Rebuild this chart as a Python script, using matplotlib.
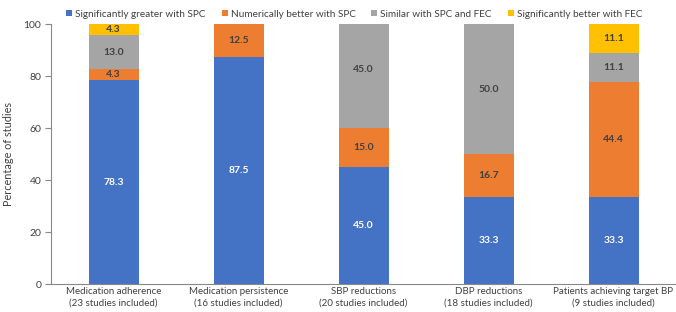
import matplotlib
matplotlib.use("Agg")
import matplotlib.pyplot as plt
import numpy as np

plt.rcParams['font.family'] = ['Lato', 'DejaVu Sans']

categories = ["Medication adherence\n(23 studies included)",
              "Medication persistence\n(16 studies included)",
              "SBP reductions\n(20 studies included)",
              "DBP reductions\n(18 studies included)",
              "Patients achieving target BP\n(9 studies included)"]
series_names = ["Significantly greater with SPC", "Numerically better with SPC",
                "Similar with SPC and FEC", "Significantly better with FEC"]
sig_spc = [78.3, 87.5, 45.0, 33.3, 33.3]
num_spc = [4.3, 12.5, 15.0, 16.7, 44.4]
similar = [13.0, 0.0, 45.0, 50.0, 11.1]
sig_fec = [4.3, 0.0, 0.0, 0.0, 11.1]
colors = ["#4472C4", "#ED7D31", "#A5A5A5", "#FFC000"]
text_colors = ["white", "#404040", "#404040", "#404040"]

fig = plt.figure(figsize=(6.76, 3.12), dpi=100)
ax = fig.add_axes([51/676, 28/312, 625/676, 260/312])

x = np.arange(len(categories))
bottom = np.zeros(len(categories))
handles = []
for vals, name, c, tc in zip([sig_spc, num_spc, similar, sig_fec], series_names, colors, text_colors):
    vals = np.array(vals)
    h = ax.bar(x, vals, width=0.4, bottom=bottom, color=c, label=name, zorder=2)
    handles.append(h)
    for xi, v, b in zip(x, vals, bottom):
        if v > 0:
            ax.text(xi, b + v / 2, f"{v:.1f}", ha='center', va='center',
                    color=tc, fontsize=7.5, fontweight='bold', zorder=3)
    bottom += vals

ax.set_xlim(-0.5, len(categories) - 0.5)
ax.set_ylim(0, 100)
ax.set_yticks([0, 20, 40, 60, 80, 100])
ax.set_xticks(x)
ax.set_xticklabels(categories, fontsize=7, color="#404040", linespacing=1.25)
ax.tick_params(axis='x', length=0, pad=2.5)
ax.tick_params(axis='y', length=4, width=0.8, color="#888888", labelsize=7.5, labelcolor="#404040", pad=3)
for s in ['top', 'right']:
    ax.spines[s].set_visible(False)
for s in ['left', 'bottom']:
    ax.spines[s].set_color("#888888")
    ax.spines[s].set_linewidth(0.8)
ax.set_ylabel("Percentage of studies", fontsize=7.8, color="#404040", labelpad=7)

fig.legend(handles=handles, labels=series_names, loc='center', bbox_to_anchor=(0.524, 0.955),
           ncol=4, frameon=False, fontsize=7.2, handlelength=0.6, handleheight=0.6,
           handletextpad=0.3, columnspacing=1.6, labelcolor="#404040")

fig.savefig("out.png", dpi=100)
